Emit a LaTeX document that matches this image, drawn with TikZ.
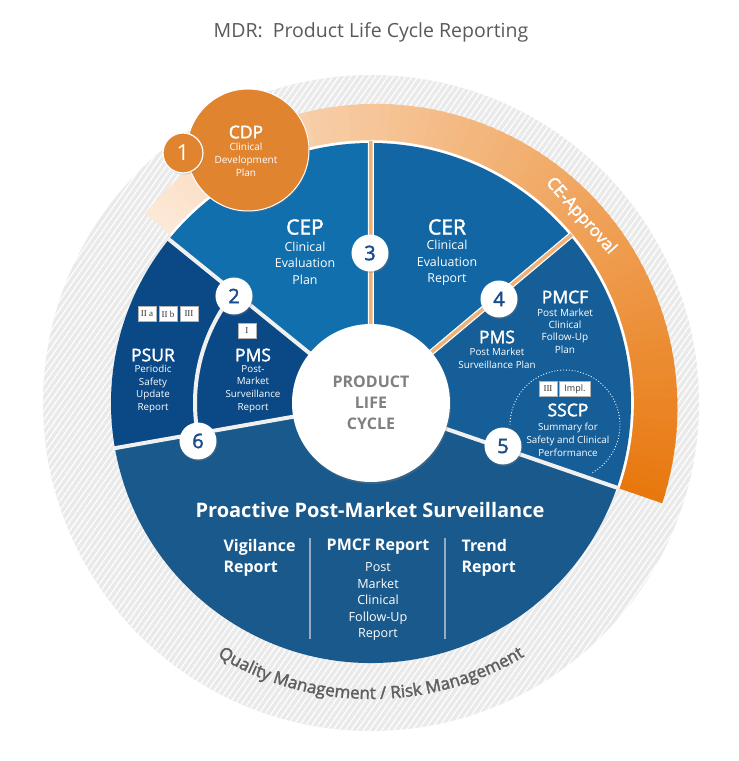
\documentclass[tikz,border=0pt]{standalone}
\usepackage{fontspec}
\setmainfont{Open Sans}
\newfontfamily\semib{Open Sans}[FakeBold=2]
\newfontfamily\tagfont{Liberation Serif}
\usetikzlibrary{shadows,patterns.meta,decorations.text}

\definecolor{cepblue}{RGB}{16,111,172}
\definecolor{cerblue}{RGB}{18,102,163}
\definecolor{pmsblue}{RGB}{22,94,152}
\definecolor{psurblue}{RGB}{10,72,134}
\definecolor{ppmsblue}{RGB}{25,89,139}
\definecolor{navy}{RGB}{25,76,140}
\definecolor{ringgray}{RGB}{234,234,234}
\definecolor{cdporange}{RGB}{224,132,48}
\definecolor{ceLight}{RGB}{252,232,214}
\definecolor{ceDark}{RGB}{232,120,14}
\definecolor{sandline}{RGB}{236,178,122}
\definecolor{titlegray}{RGB}{89,89,89}
\definecolor{qmgray}{RGB}{95,95,95}
\definecolor{lifegray}{RGB}{128,128,128}
\definecolor{sepgray}{RGB}{150,172,195}

\begin{document}
\begin{tikzpicture}[x=1pt, y=1pt, text=white]
    \tikzstyle{badge}=[circle, fill=white, minimum size=37pt, inner sep=0pt, text=navy,
        font=\semib\fontsize{20}{20}\selectfont,
        drop shadow={opacity=0.3, shadow xshift=1pt, shadow yshift=-1.5pt}]
    \tikzstyle{big}=[align=center, font=\semib\fontsize{21}{24}\selectfont]
    \tikzstyle{head}=[align=center, font=\semib\fontsize{17.5}{20}\selectfont]
    \tikzstyle{mid}=[align=center, font=\fontsize{12.4}{16.5}\selectfont]
    \tikzstyle{small}=[align=center, font=\fontsize{9.8}{12.8}\selectfont]
    \tikzstyle{tag}=[draw=gray!60, fill=white, text=black!80, minimum width=18pt,
        minimum height=15pt, inner sep=1pt, font=\tagfont\fontsize{9}{9}\selectfont]
    \tikzstyle{divider}=[line width=4pt, draw=gray!12]
    \tikzstyle{sandbar}=[line width=3.5pt, draw=sandline]
    \tikzstyle{report}=[font=\bfseries\fontsize{16}{21}\selectfont]

    \useasboundingbox (-371,-358) rectangle (368,403);

    % title
    \node[text=titlegray, font=\fontsize{19.5}{22}\selectfont] (title) at (0,371)
        {MDR:\ \ Product Life Cycle Reporting};

    % quality ring
    \fill[ringgray] (0,0) circle (328);
    \fill[pattern={Lines[angle=55,distance=5pt,line width=1.2pt]}, pattern color=white] (0,0) circle (328);
    \path[decorate, decoration={text along path, text align=center,
        text={|\semib\fontsize{17}{17}\selectfont\color{qmgray}|Quality Management / Risk Management}}]
        (226:296) arc[start angle=226, end angle=314, radius=296];

    % CE approval band
    \foreach \i in {0,...,79} {
        \pgfmathsetmacro\ta{140-\i*159/80}
        \pgfmathsetmacro\tb{max(140-(\i+1)*159/80-0.6,-19)}
        \pgfmathsetmacro\ra{295+13*(140-\ta)/159}
        \pgfmathsetmacro\rb{295+13*(140-\tb)/159}
        \pgfmathtruncatemacro\p{100*\i/79}
        \fill[ceDark!\p!ceLight] (\ta:262) -- (\ta:\ra) -- (\tb:\rb) -- (\tb:262) -- cycle;
    }
    \draw[white, line width=2.5pt] (-19:261.5) arc[start angle=-19, end angle=140, radius=261.5];

    % segments
    \fill[cepblue] (0,0) -- (90:260) arc[start angle=90, end angle=141, radius=260] -- cycle;
    \fill[cerblue] (0,0) -- (40:260) arc[start angle=40, end angle=90, radius=260] -- cycle;
    \fill[pmsblue] (0,0) -- (-19:260) arc[start angle=-19, end angle=40, radius=260] -- cycle;
    \fill[psurblue] (0,0) -- (141:260) arc[start angle=141, end angle=190, radius=260] -- cycle;
    \fill[ppmsblue] (0,0) -- (190:260) arc[start angle=190, end angle=341, radius=260] -- cycle;

    \coordinate (c) at (0,0);
    \coordinate (e2) at (141:262);
    \coordinate (e3) at (90:262);
    \coordinate (e4) at (40:262);
    \coordinate (e5) at (-19:262);
    \coordinate (e6) at (190:262);
    \draw[divider] (c) -- (e2);
    \draw[divider] (c) -- (e5);
    \draw[divider] (c) -- (e6);
    \draw[divider] (142:176) arc[start angle=142, end angle=190, radius=176];
    \draw[white, line width=6pt] (c) -- (e3) (c) -- (e4);
    \draw[sandbar] (c) -- (e3) (c) -- (e4);

    % SSCP ring
    \draw[white, dotted, line width=0.9pt] (194,-22) ++(-60:55) arc[start angle=-60, end angle=180, radius=55];

    % CDP
    \node[circle, fill=cdporange, draw=white, line width=1pt, minimum size=122pt,
        drop shadow={opacity=0.3, shadow xshift=1pt, shadow yshift=-1.5pt}] (cdp) at (-123,253) {};
    \node[circle, fill=cdporange, draw=white, line width=1.2pt, minimum size=40pt, inner sep=0pt,
        font=\fontsize{22}{22}\selectfont,
        drop shadow={opacity=0.3, shadow xshift=1pt, shadow yshift=-1.5pt}] (1) at (-188,250) {1};
    \node[head] (cdph) at (-125,271) {CDP};
    \node[small, font=\fontsize{10}{13}\selectfont] (cdps) at (-125,243) {Clinical\\Development\\Plan};

    % hub
    \node[circle, fill=white, minimum size=158pt, align=center, text=lifegray,
        font=\bfseries\fontsize{16}{21}\selectfont,
        drop shadow={opacity=0.3, shadow xshift=1pt, shadow yshift=-2pt}] (hub) at (0,0)
        {PRODUCT\\LIFE\\CYCLE};

    % badges
    \node[badge] (2) at (-137,107) {2};
    \node[badge] (3) at (-1,150) {3};
    \node[badge] (4) at (128,104) {4};
    \node[badge] (5) at (132,-43) {5};
    \node[badge] (6) at (-173,-38) {6};

    % upper segments
    \node[big] (ceph) at (-66,176) {CEP};
    \node[mid] (ceps) at (-66,140) {Clinical\\Evaluation\\Plan};
    \node[big] (cerh) at (76,176) {CER};
    \node[mid] (cers) at (76,140) {Clinical\\Evaluation\\Report};
    \node[head] (pmcfh) at (194,106) {PMCF};
    \node[small, font=\fontsize{10}{12.3}\selectfont] (pmcfs) at (194,72) {Post Market\\Clinical\\Follow-Up\\Plan};
    \node[head] (pmsh) at (126,66) {PMS};
    \node[small] (pmss) at (126,44.5) {Post Market\\Surveillance Plan};
    \node[tag] (t5a) at (177,14) {III};
    \node[tag, minimum width=31pt, font=\fontsize{9}{9}\selectfont] (t5b) at (204,14) {Impl.};
    \node[head] (sscph) at (197,-7) {SSCP};
    \node[small] (sscps) at (197,-36.5) {Summary for\\Safety and Clinical\\Performance};

    % left segments
    \node[tag] (t2a) at (-224,89) {II a};
    \node[tag] (t2b) at (-203,89) {II b};
    \node[tag] (t2c) at (-182,89) {III};
    \node[head] (psurh) at (-218,48) {PSUR};
    \node[small] (psurs) at (-218,14) {Periodic\\Safety\\Update\\Report};
    \node[tag] (t6) at (-124,72) {I};
    \node[head] (pmrh) at (-118,48) {PMS};
    \node[small] (pmrs) at (-118,14) {Post-\\Market\\Surveillance\\Report};

    % bottom segment
    \node[font=\bfseries\fontsize{20}{24}\selectfont] (ppms) at (-1,-107) {Proactive Post-Market Surveillance};
    \node[report, anchor=west, align=left] (vig) at (-151,-154.5) {Vigilance\\Report};
    \node[report] (pmcfr) at (7,-144) {PMCF Report};
    \node[align=center, font=\fontsize{12.6}{16.5}\selectfont] (pmcfrs) at (7,-199) {Post\\Market\\Clinical\\Follow-Up\\Report};
    \node[report, anchor=west, align=left] (trend) at (87,-154.5) {Trend\\Report};
    \coordinate (s1a) at (-61,-135);
    \coordinate (s1b) at (-61,-236);
    \coordinate (s2a) at (74,-135);
    \coordinate (s2b) at (74,-236);
    \draw[sepgray, line width=1.3pt] (s1a) -- (s1b) (s2a) -- (s2b);

    % CE label
    \node[rotate=-48.3, font=\semib\fontsize{17}{17}\selectfont] (ce) at (41.7:281) {CE-Approval};
\end{tikzpicture}
\end{document}
